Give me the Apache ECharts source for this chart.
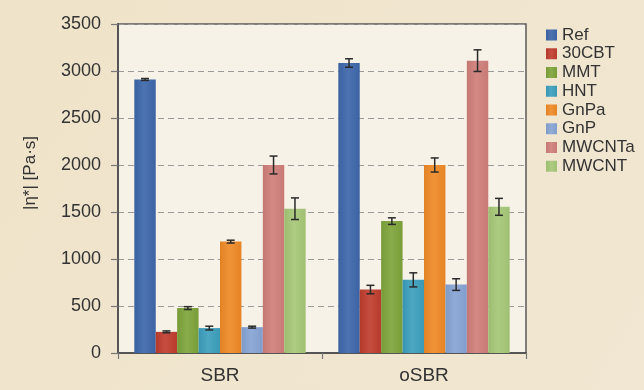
<!DOCTYPE html>
<html>
<head>
<meta charset="utf-8">
<script src="https://cdn.jsdelivr.net/npm/echarts@6/dist/echarts.min.js"></script>
<style>
  html, body { margin: 0; padding: 0; background: #efe4cc; }
  #chart { width: 644px; height: 390px; }
</style>
</head>
<body>
<div id="chart"></div>
<script>
// Complex viscosity |η*| of the rubber compounds
const categories = ['SBR', 'oSBR'];
const seriesNames = ['Ref', '30CBT', 'MMT', 'HNT', 'GnPa', 'GnP', 'MWCNTa', 'MWCNT'];

const refValues    = [2910, 3085];
const cbtValues    = [225, 675];
const mmtValues    = [478, 1403];
const hntValues    = [265, 778];
const gnpaValues   = [1185, 2000];
const gnpValues    = [275, 728];
const mwcntaValues = [2000, 3110];
const mwcntValues  = [1535, 1555];

const refErr    = [10, 45];
const cbtErr    = [10, 45];
const mmtErr    = [15, 35];
const hntErr    = [20, 75];
const gnpaErr   = [15, 75];
const gnpErr    = [10, 62];
const mwcntaErr = [95, 115];
const mwcntErr  = [115, 90];

const yTicks = [0, 500, 1000, 1500, 2000, 2500, 3000, 3500];
const yAxisTitle = '|η*| [Pa·s]';

const allValues = [refValues, cbtValues, mmtValues, hntValues, gnpaValues, gnpValues, mwcntaValues, mwcntValues];
const allErrors = [refErr, cbtErr, mmtErr, hntErr, gnpaErr, gnpErr, mwcntaErr, mwcntErr];

const palette = ['#3e67aa', '#c03d2e', '#7ea53a', '#3c9fbd', '#ef8a26', '#86a4d4', '#d07f7a', '#a6c877'];

function shade(hex, f) {
  const n = parseInt(hex.slice(1), 16);
  let r = (n >> 16) & 255, g = (n >> 8) & 255, b = n & 255;
  const mix = v => Math.max(0, Math.min(255, Math.round(f >= 0 ? v + (255 - v) * f : v * (1 + f))));
  return 'rgb(' + mix(r) + ',' + mix(g) + ',' + mix(b) + ')';
}
function barFill(hex) {
  return new echarts.graphic.LinearGradient(0, 0, 1, 0, [
    { offset: 0, color: shade(hex, -0.06) },
    { offset: 0.45, color: shade(hex, 0.08) },
    { offset: 1, color: shade(hex, -0.04) }
  ]);
}

const CAT_GAP = 0.16;
const nSeries = seriesNames.length;

const barSeries = seriesNames.map((name, i) => ({
  name: name,
  type: 'bar',
  barGap: '0%',
  barCategoryGap: (CAT_GAP * 100) + '%',
  itemStyle: { color: barFill(palette[i]) },
  data: allValues[i],
  z: 2
}));

// error bars drawn on top of each bar
const errSeries = seriesNames.map((name, i) => ({
  type: 'custom',
  name: name + ' err',
  z: 5,
  silent: true,
  data: allValues[i].map((v, k) => [k, v, allErrors[i][k]]),
  renderItem: function (params, api) {
    const k = api.value(0);
    const v = api.value(1);
    const e = api.value(2);
    const catW = api.size([1, 0])[0];
    const barW = catW * (1 - CAT_GAP) / nSeries;
    const base = api.coord([k, v]);
    const cx = base[0] - catW * (1 - CAT_GAP) / 2 + barW * (i + 0.5);
    const yHi = api.coord([k, v + e])[1];
    const yLo = api.coord([k, v - e])[1];
    const cap = 4;
    const style = { stroke: '#2a2a2a', lineWidth: 1.5 };
    return {
      type: 'group',
      children: [
        { type: 'line', shape: { x1: cx, y1: yHi, x2: cx, y2: yLo }, style: style },
        { type: 'line', shape: { x1: cx - cap, y1: yHi, x2: cx + cap, y2: yHi }, style: style },
        { type: 'line', shape: { x1: cx - cap, y1: yLo, x2: cx + cap, y2: yLo }, style: style }
      ]
    };
  }
}));

const chart = echarts.init(document.getElementById('chart'), null, { renderer: 'canvas' });
chart.setOption({
  animation: false,
  backgroundColor: new echarts.graphic.LinearGradient(0, 0, 1, 1, [
    { offset: 0, color: '#efe3c9' },
    { offset: 1, color: '#f1e7d2' }
  ]),
  textStyle: { fontFamily: 'Liberation Sans, Arial, sans-serif' },
  grid: {
    left: 118, right: 118, top: 24, bottom: 37,
    show: true,
    backgroundColor: '#f7f2e8',
    borderColor: '#5a5a5a',
    borderWidth: 1.5
  },
  graphic: [{
    type: 'text',
    x: 30,
    y: 173,
    rotation: Math.PI / 2,
    style: {
      text: yAxisTitle,
      fontSize: 17,
      fontFamily: 'Liberation Sans, Arial, sans-serif',
      fill: '#333',
      align: 'center',
      verticalAlign: 'middle'
    }
  }],
  legend: {
    data: seriesNames,
    orient: 'vertical',
    left: 546,
    top: 26.5,
    padding: 0,
    itemWidth: 11,
    itemHeight: 11,
    itemGap: 1.75,
    icon: 'rect',
    textStyle: { fontSize: 17, lineHeight: 17, color: '#333', padding: [0, 0, 0, 0] }
  },
  xAxis: {
    type: 'category',
    data: categories,
    axisLine: { lineStyle: { color: '#555', width: 2 } },
    axisTick: { show: true, length: 6, lineStyle: { color: '#777', width: 1.2 } },
    axisLabel: { fontSize: 19, color: '#333', margin: 13 }
  },
  yAxis: {
    type: 'value',
    min: 0,
    max: yTicks[yTicks.length - 1],
    interval: yTicks[1] - yTicks[0],
    axisLine: { show: true, lineStyle: { color: '#555', width: 2 } },
    axisTick: { show: true, length: 7, lineStyle: { color: '#777', width: 1.2 } },
    axisLabel: { fontSize: 18, color: '#333', margin: 17, formatter: v => String(v) },
    splitLine: { lineStyle: { color: '#999', type: [6, 4], width: 1.2 } }
  },
  series: barSeries.concat(errSeries)
});
</script>
</body>
</html>
